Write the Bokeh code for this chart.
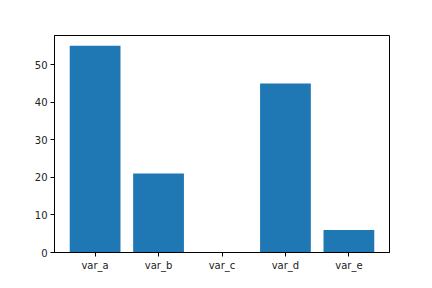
from bokeh.plotting import figure
from bokeh.models import Range1d, FixedTicker
from bokeh.embed import file_html
from bokeh.resources import INLINE

categories = ["var_a", "var_b", "var_c", "var_d", "var_e"]
values = [55, 21, 0, 45, 6]
y_ticks = [0, 10, 20, 30, 40, 50]

xs = list(range(len(categories)))
ymax = max(values) * 1.05

p = figure(width=432, height=288, output_backend="svg", toolbar_location=None,
           x_range=Range1d(-0.64, len(categories) - 1 + 0.64),
           y_range=Range1d(0, ymax),
           min_border_left=54, min_border_right=43, min_border_top=35, min_border_bottom=36)
p.vbar(x=xs, top=values, width=0.8, color="#1f77b4", line_color=None)

p.xgrid.visible = False
p.ygrid.visible = False
p.outline_line_color = "black"
p.outline_line_width = 1
p.outline_line_alpha = 1
p.background_fill_color = "white"
p.border_fill_color = "white"

p.xaxis.ticker = FixedTicker(ticks=xs)
p.xaxis.major_label_overrides = {i: c for i, c in enumerate(categories)}
p.yaxis.ticker = FixedTicker(ticks=y_ticks)

for ax in (p.xaxis[0], p.yaxis[0]):
    ax.axis_line_color = "black"
    ax.axis_line_width = 1
    ax.major_tick_line_color = "black"
    ax.major_tick_in = 0
    ax.major_tick_out = 4
    ax.minor_tick_line_color = None
    ax.major_label_text_font = "DejaVu Sans"
    ax.major_label_text_font_size = "10px"
    ax.major_label_text_color = "#222222"
    ax.major_label_standoff = 3

open("out.html", "w").write(file_html(p, INLINE))
